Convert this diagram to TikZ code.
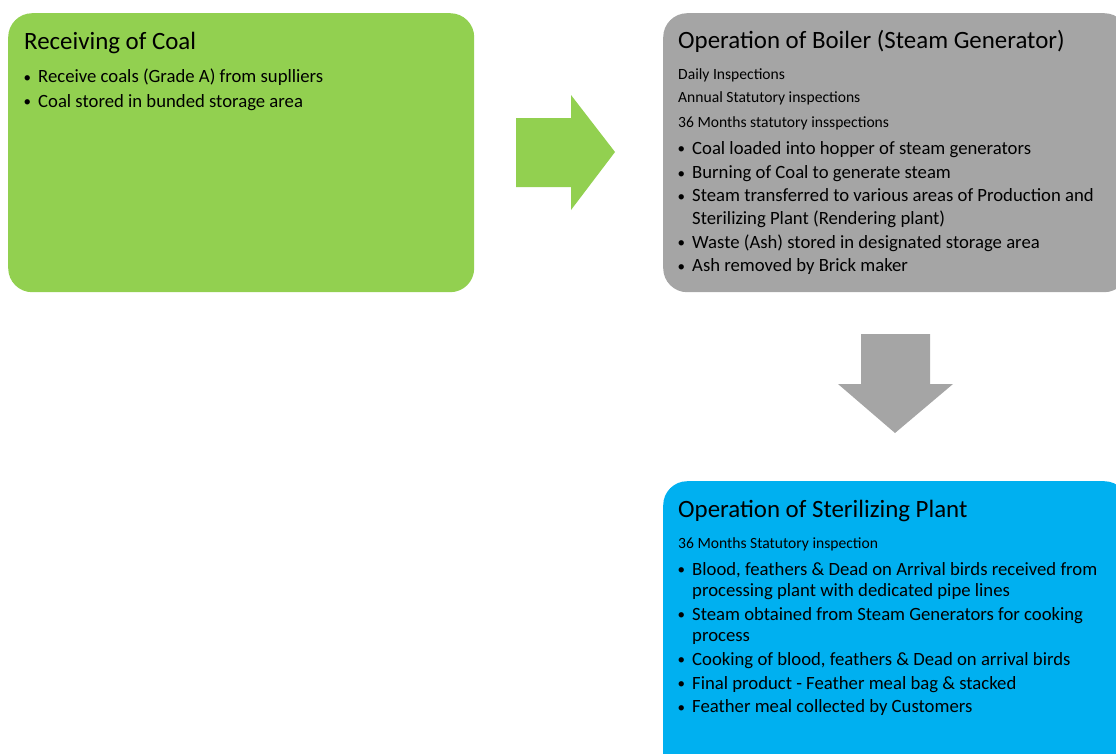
\documentclass[tikz,border=0pt]{standalone}
\usepackage{fontspec}
\setmainfont{Carlito}
\usetikzlibrary{positioning}
\definecolor{coalgreen}{HTML}{92D050}
\definecolor{boilergray}{HTML}{A5A5A5}
\definecolor{plantblue}{HTML}{00B0F0}
\newcommand{\bl}{\llap{\raisebox{0.6pt}{\fontsize{15}{15}\selectfont\textbullet}\hspace{7pt}}}

\begin{document}
\begin{tikzpicture}
	[x=1pt,y=-1pt,
	 box/.style={rounded corners=24pt,inner sep=0pt,anchor=north west},
	 head/.style={anchor=base west,inner sep=0pt,font=\fontsize{24.9}{30}\selectfont},
	 small/.style={anchor=base west,inner sep=0pt,font=\fontsize{15.6}{19}\selectfont},
	 item/.style={anchor=base west,inner sep=0pt,font=\fontsize{18.7}{21}\selectfont}]
\path[clip] (0,0) rectangle (1116,753);
% boxes
\node[box,fill=coalgreen,minimum width=466pt,minimum height=279pt] (coal) at (8,13) {};
\node[box,fill=boilergray,minimum width=465pt,minimum height=279pt] (boiler) at (663,13) {};
\node[box,fill=plantblue,minimum width=465pt,minimum height=300pt] (plant) at (663,481) {};
% block arrows
\fill[coalgreen] (516,118) -- (571,118) -- (571,95) -- (615,152)
  -- (571,210) -- (571,187) -- (516,187) -- cycle;
\fill[boilergray] (861,334) -- (930,334) -- (930,384) -- (953,384)
  -- (895,433) -- (838,384) -- (861,384) -- cycle;
% receiving of coal
\node[head] (coal-t) at (24,49) {Receiving of Coal};
\foreach \y/\t [count=\i] in {82.7/{\bl Receive coals (Grade A) from suplliers},
  107/{\bl Coal stored in bunded storage area}}
\node[item] (coal-\i) at (38,\y) {\t};
% boiler
\node[head] (boiler-t) at (678,48.3) {Operation of Boiler (Steam Generator)};
\foreach \y/\t [count=\i] in {79.3/Daily Inspections,
  102.7/Annual Statutory inspections,
  127/36 Months statutory insspections}
\node[small] (boiler-s\i) at (678,\y) {\t};
\foreach \y/\t [count=\i] in {154.3/{\bl Coal loaded into hopper of steam generators},
  178.7/{\bl Burning of Coal to generate steam},
  201.7/{\bl Steam transferred to various areas of Production and},
  224/{Sterilizing Plant (Rendering plant)},
  248/{\bl Waste (Ash) stored in designated storage area},
  271.7/{\bl Ash removed by Brick maker}}
\node[item] (boiler-\i) at (692,\y) {\t};
% sterilizing plant
\node[head] (plant-t) at (678,517.7) {Operation of Sterilizing Plant};
\node[small] (plant-s1) at (678,548) {36 Months Statutory inspection};
\foreach \y/\t [count=\i] in {575/{\bl Blood, feathers \& Dead on Arrival birds received from},
  596/{processing plant with dedicated pipe lines},
  620.3/{\bl Steam obtained from Steam Generators for cooking},
  641/{process},
  665.3/{\bl Cooking of blood, feathers \& Dead on arrival birds},
  689.3/{\bl Final product - Feather meal bag \& stacked},
  712.7/{\bl Feather meal collected by Customers}}
\node[item] (plant-\i) at (692,\y) {\t};
\end{tikzpicture}
\end{document}
